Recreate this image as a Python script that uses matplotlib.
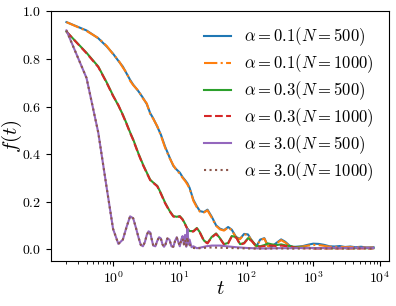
import numpy as np
import matplotlib
matplotlib.use("Agg")
import matplotlib.pyplot as plt

plt.rcParams['font.family'] = 'serif'
plt.rcParams['font.serif'] = ['cmr10']
plt.rcParams['mathtext.fontset'] = 'cm'
plt.rcParams['axes.formatter.use_mathtext'] = True

"""time grid and f(t) for alpha = 0.1 and 0.3"""
t_slow = [0.2, 0.4, 0.6, 0.8, 1.0, 1.2, 1.4, 1.6, 1.8, 2.0, 2.4, 2.8, 3.2, 3.6, 4.0,
          4.6, 5.2, 6.0, 7.0, 8.0, 9.0, 10, 11, 12, 13, 14, 16, 18, 20, 23, 26, 30,
          35, 40, 46, 53, 60, 70, 80, 92, 105, 120, 140, 160, 185, 210, 240, 280,
          330, 380, 440, 500, 600, 700, 850, 1000, 1200, 1450, 1750, 2100, 2500,
          3000, 3600, 4300, 5200, 6300, 8000]

f01_500 = [0.955, 0.92, 0.887, 0.853, 0.822, 0.792, 0.768, 0.738, 0.712, 0.692, 0.664,
           0.637, 0.610, 0.572, 0.550, 0.515, 0.482, 0.432, 0.387, 0.350, 0.334, 0.322,
           0.303, 0.290, 0.277, 0.258, 0.207, 0.180, 0.160, 0.156, 0.166, 0.137, 0.100,
           0.086, 0.080, 0.093, 0.082, 0.050, 0.044, 0.064, 0.062, 0.036, 0.011, 0.040,
           0.046, 0.013, 0.011, 0.026, 0.041, 0.031, 0.015, 0.009, 0.011, 0.013, 0.019,
           0.023, 0.022, 0.018, 0.012, 0.011, 0.013, 0.009, 0.011, 0.008, 0.010, 0.007, 0.008]
f01_1000 = [0.955, 0.918, 0.888, 0.855, 0.82, 0.795, 0.764, 0.741, 0.708, 0.690, 0.666,
            0.634, 0.613, 0.568, 0.548, 0.517, 0.478, 0.428, 0.384, 0.353, 0.330, 0.318,
            0.300, 0.287, 0.272, 0.255, 0.203, 0.176, 0.158, 0.154, 0.163, 0.133, 0.098,
            0.083, 0.078, 0.091, 0.080, 0.048, 0.042, 0.062, 0.060, 0.034, 0.010, 0.038,
            0.044, 0.012, 0.010, 0.024, 0.038, 0.028, 0.013, 0.008, 0.009, 0.011, 0.015,
            0.018, 0.017, 0.014, 0.010, 0.009, 0.010, 0.008, 0.009, 0.007, 0.008, 0.006, 0.007]

f03_500 = [0.915, 0.826, 0.768, 0.702, 0.646, 0.604, 0.566, 0.527, 0.491, 0.462, 0.402,
           0.357, 0.322, 0.292, 0.280, 0.266, 0.236, 0.196, 0.162, 0.139, 0.136, 0.139,
           0.126, 0.106, 0.086, 0.076, 0.076, 0.089, 0.071, 0.036, 0.026, 0.051, 0.066,
           0.046, 0.021, 0.026, 0.055, 0.051, 0.021, 0.026, 0.046, 0.036, 0.014, 0.012,
           0.017, 0.024, 0.020, 0.017, 0.020, 0.016, 0.013, 0.010, 0.007, 0.006, 0.005,
           0.005, 0.004, 0.005, 0.004, 0.004, 0.005, 0.004, 0.004, 0.004, 0.005, 0.004, 0.004]
f03_1000 = [0.915, 0.824, 0.766, 0.700, 0.644, 0.606, 0.563, 0.525, 0.489, 0.459, 0.400,
            0.354, 0.320, 0.290, 0.279, 0.264, 0.233, 0.194, 0.160, 0.137, 0.134, 0.137,
            0.124, 0.104, 0.084, 0.074, 0.074, 0.087, 0.069, 0.034, 0.024, 0.049, 0.064,
            0.044, 0.019, 0.024, 0.053, 0.049, 0.019, 0.024, 0.044, 0.034, 0.012, 0.010,
            0.013, 0.016, 0.015, 0.013, 0.015, 0.013, 0.011, 0.008, 0.005, 0.004, 0.004,
            0.003, 0.003, 0.003, 0.003, 0.003, 0.003, 0.003, 0.003, 0.003, 0.003, 0.003, 0.003]

"""time grid and f(t) for alpha = 3.0"""
t_fast = [0.2, 0.4, 0.6, 0.8, 1.0, 1.2, 1.4, 1.6, 1.8, 2.0, 2.2, 2.4, 2.6, 2.8, 3.0,
          3.2, 3.4, 3.6, 3.8, 4.0, 4.3, 4.6, 4.9, 5.2, 5.5, 5.8, 6.1, 6.5, 7.0, 7.5,
          8.0, 8.5, 9.0, 9.5, 10, 10.5, 11, 11.5, 12, 12.5, 13, 13.5, 14, 15, 16, 18,
          20, 25, 30, 40, 50, 70, 100, 150, 200, 300, 500, 800, 1200, 2000, 3000,
          5000, 8000]

f30_500 = [0.92, 0.72, 0.49, 0.26, 0.085, 0.022, 0.040, 0.095, 0.138, 0.130, 0.090,
           0.050, 0.018, 0.012, 0.030, 0.060, 0.075, 0.070, 0.040, 0.015, 0.012, 0.035,
           0.050, 0.045, 0.020, 0.010, 0.020, 0.045, 0.040, 0.012, 0.010, 0.035, 0.050,
           0.030, 0.012, 0.040, 0.055, 0.020, 0.060, 0.010, 0.085, 0.020, 0.040, 0.008,
           0.012, 0.004, 0.006, 0.012, 0.015, 0.015, 0.012, 0.008, 0.005, 0.003, 0.003,
           0.004, 0.004, 0.005, 0.004, 0.006, 0.005, 0.006, 0.005]
f30_1000 = [0.92, 0.72, 0.49, 0.26, 0.085, 0.022, 0.040, 0.095, 0.138, 0.130, 0.090,
            0.050, 0.018, 0.012, 0.030, 0.060, 0.075, 0.070, 0.040, 0.015, 0.012, 0.035,
            0.050, 0.045, 0.020, 0.010, 0.020, 0.045, 0.040, 0.012, 0.010, 0.035, 0.048,
            0.030, 0.015, 0.035, 0.045, 0.020, 0.040, 0.015, 0.050, 0.020, 0.020, 0.006,
            0.005, 0.003, 0.004, 0.006, 0.007, 0.006, 0.005, 0.004, 0.003, 0.002, 0.002,
            0.003, 0.002, 0.003, 0.002, 0.003, 0.002, 0.003, 0.002]

labels = [r'$\alpha=0.1(N=500)$', r'$\alpha=0.1(N=1000)$',
          r'$\alpha=0.3(N=500)$', r'$\alpha=0.3(N=1000)$',
          r'$\alpha=3.0(N=500)$', r'$\alpha=3.0(N=1000)$']

fig = plt.figure(figsize=(3.96, 3.06), dpi=100)
ax = fig.add_axes([0.129, 0.147, 0.853, 0.818])

ax.plot(t_slow, f01_500, '-', color='C0', lw=1.5, label=labels[0])
ax.plot(t_slow, f01_1000, '-.', color='C1', lw=1.5, label=labels[1])
ax.plot(t_slow, f03_500, '-', color='C2', lw=1.5, label=labels[2])
ax.plot(t_slow, f03_1000, '--', color='C3', lw=1.5, label=labels[3])
ax.plot(t_fast, f30_500, '-', color='C4', lw=1.5, label=labels[4])
ax.plot(t_fast, f30_1000, ':', color='C5', lw=1.5, label=labels[5])

ax.set_xscale('log')
ax.set_ylim(-0.05, 1.003)
ax.set_xlabel(r'$t$', fontsize=15)
ax.set_ylabel(r'$f(t)$', fontsize=15)
ax.xaxis.set_label_coords(0.5, -0.075)
ax.yaxis.set_label_coords(-0.08, 0.5)
ax.tick_params(labelsize=10)
ax.legend(loc='upper right', frameon=False, fontsize=12, labelspacing=0.25,
          handlelength=1.6)

fig.savefig('out.png', dpi=100)
